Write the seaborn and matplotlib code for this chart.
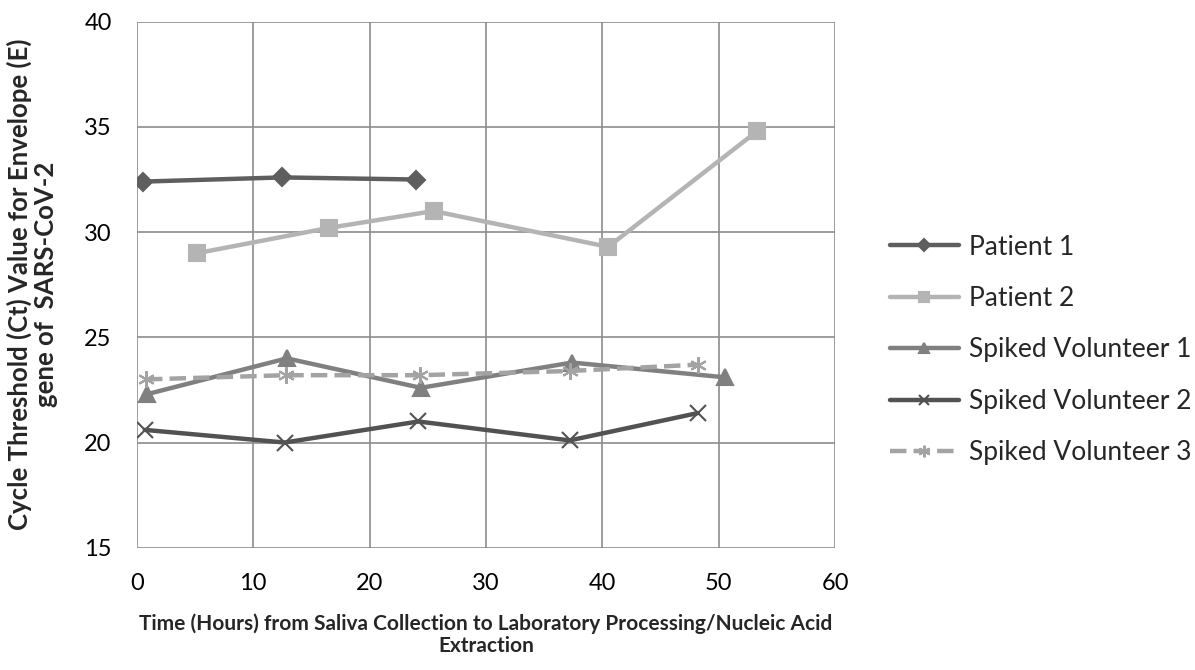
import pandas as pd
import numpy as np
import matplotlib.pyplot as plt
import seaborn as sns

# Valeurs
p1_x = [0.5, 12.5, 24.0]
p1_y = [32.4, 32.6, 32.5]
p2_x = [5.2, 16.5, 25.5, 40.5, 53.3]
p2_y = [29.0, 30.2, 31.0, 29.3, 34.8]
sv1_x = [0.9, 12.9, 24.4, 37.4, 50.5]
sv1_y = [22.3, 24.0, 22.6, 23.8, 23.1]
sv2_x = [0.7, 12.7, 24.2, 37.2, 48.2]
sv2_y = [20.6, 20.0, 21.0, 20.1, 21.4]
sv3_x = [0.8, 12.8, 24.3, 37.2, 48.2]
sv3_y = [23.0, 23.2, 23.2, 23.4, 23.7]

names = ["Patient 1", "Patient 2", "Spiked Volunteer 1", "Spiked Volunteer 2", "Spiked Volunteer 3"]
xs = [p1_x, p2_x, sv1_x, sv2_x, sv3_x]
ys = [p1_y, p2_y, sv1_y, sv2_y, sv3_y]

df = pd.concat([pd.DataFrame({"time": x, "ct": y, "serie": n}) for n, x, y in zip(names, xs, ys)],
               ignore_index=True)

# style de chaque serie
colors = {"Patient 1": "#5e5e5e", "Patient 2": "#b4b4b4", "Spiked Volunteer 1": "#808080",
          "Spiked Volunteer 2": "#525252", "Spiked Volunteer 3": "#a3a3a3"}
markers = {"Patient 1": "D", "Patient 2": "s", "Spiked Volunteer 1": "^",
           "Spiked Volunteer 2": "x", "Spiked Volunteer 3": (6, 2, 0)}
msizes = {"Patient 1": 9, "Patient 2": 11, "Spiked Volunteer 1": 11,
          "Spiked Volunteer 2": 11, "Spiked Volunteer 3": 12}

sns.set_style("white")
plt.rcParams['font.family'] = ['Lato', 'DejaVu Sans']

fig = plt.figure(figsize=(11.95, 6.7), dpi=100)
ax = fig.add_axes([0.1144, 0.1825, 0.5845, 0.7851])

for n in names:
    sub = df[df["serie"] == n]
    sns.lineplot(data=sub, x="time", y="ct", ax=ax, color=colors[n], marker=markers[n],
                 markersize=msizes[n], markeredgecolor=colors[n], markeredgewidth=1.5,
                 linewidth=3.2, label=n,
                 linestyle="--" if n == "Spiked Volunteer 3" else "-")

ax.set_xlim(0, 60)
ax.set_ylim(15, 40)
ax.set_xticks(np.arange(0, 61, 10))
ax.set_yticks(np.arange(15, 41, 5))
ax.grid(True, color="#8c8c8c", linewidth=1.2)
ax.set_axisbelow(True)
for s in ax.spines.values():
    s.set_visible(False)
ax.tick_params(length=0, labelsize=17, pad=18, colors="black")

ax.set_xlabel("Time (Hours) from Saliva Collection to Laboratory Processing/Nucleic Acid\nExtraction",
              fontsize=15, fontweight="bold", linespacing=1.1)
ax.xaxis.set_label_coords(0.5, -0.125)
ax.set_ylabel("Cycle Threshold (Ct) Value for Envelope (E)\ngene of  SARS-CoV-2",
              fontsize=18.5, fontweight="bold", linespacing=1.1)
ax.yaxis.set_label_coords(-0.112, 0.5)

ax.legend(loc="center left", bbox_to_anchor=(1.0785, 0.376), frameon=False, fontsize=19,
          handlelength=2.6, labelspacing=1.0, handletextpad=0.38, markerscale=0.7,
          borderpad=0, borderaxespad=0)

plt.savefig("out.png", dpi=100)
